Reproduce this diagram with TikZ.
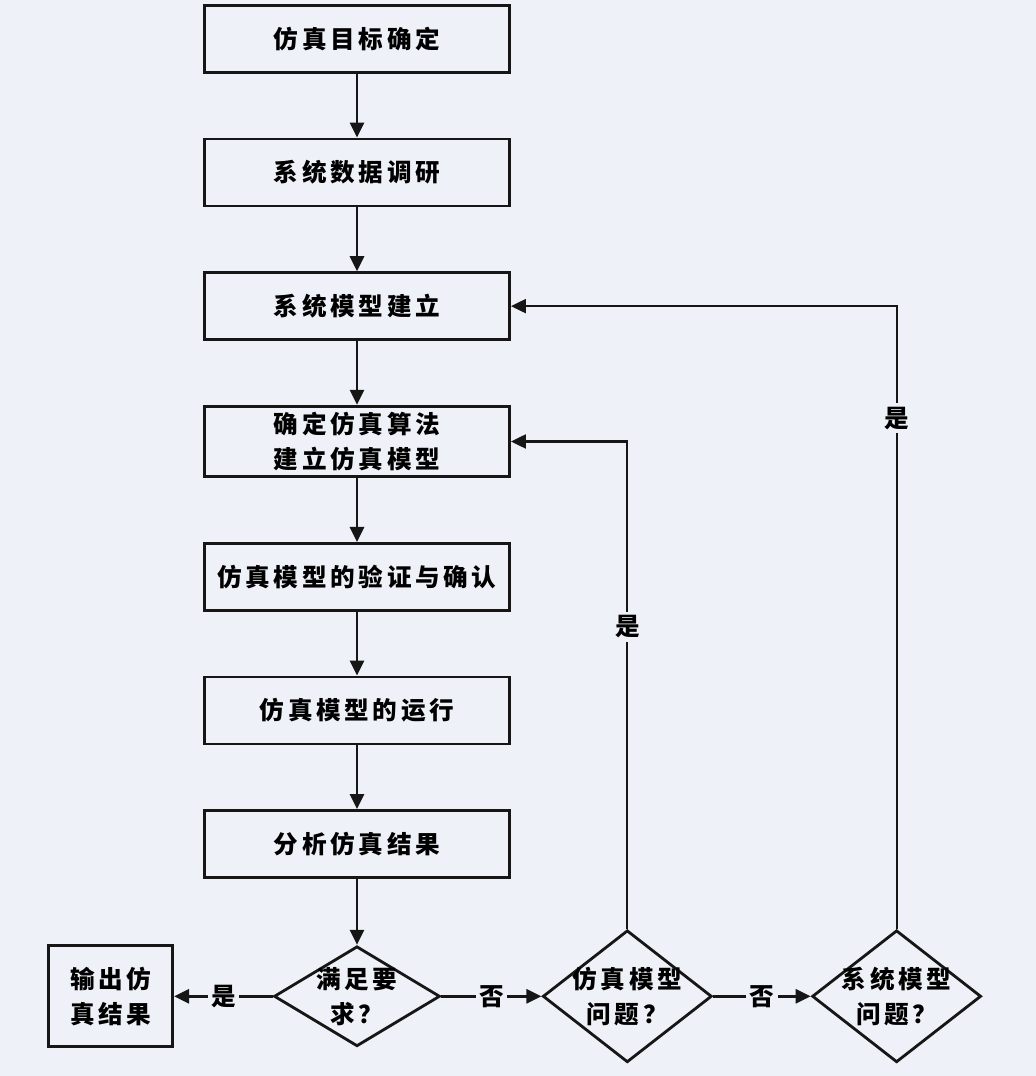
\documentclass[tikz,border=0pt]{standalone}
\usepackage{fontspec}
\usepackage{tikz}
\usepackage{xcolor}
\usetikzlibrary{arrows.meta, positioning, shapes.geometric}
\newfontfamily\cjk[LetterSpace=15]{Noto Sans CJK SC}
\definecolor{paperbg}{HTML}{EEF1F7}
\definecolor{inkline}{HTML}{161616}

\begin{document}
\begin{tikzpicture}[
      node distance=1.275cm,
      font=\cjk\bfseries\fontsize{14}{20}\selectfont,
      box/.style={draw=inkline, line width=1.6pt, fill=paperbg, minimum width=6.1cm, minimum height=1.34cm, align=center},
      outbox/.style={box, minimum width=2.48cm, minimum height=2.02cm},
      decide/.style={diamond, draw=inkline, line width=1.6pt, fill=paperbg, inner sep=-3pt, align=center},
      lbl/.style={fill=paperbg, inner sep=2pt},
      flow/.style={-{Triangle[length=0.3cm, width=0.28cm]}, line width=1.6pt, draw=inkline},
      back/.style={-{Triangle[length=0.3cm, width=0.28cm]}, line width=1.2pt, draw=inkline}
    ]
      \fill[paperbg] (0,0) rectangle (20.72,-21.52);
      \node[box] (goal) at (7.14,-0.78) {仿真目标确定};
      \node[box, below=of goal] (survey) {系统数据调研};
      \node[box, below=of survey] (model) {系统模型建立};
      \node[box, below=of model] (algo) {确定仿真算法\\建立仿真模型};
      \node[box, below=of algo] (verify) {仿真模型的验证与确认};
      \node[box, below=of verify] (run) {仿真模型的运行};
      \node[box, below=of run] (analyse) {分析仿真结果};
      \node[decide, aspect=1.66, minimum width=3.32cm, minimum height=2.0cm, below=1.32cm of analyse] (check) {满足要\\求？};
      \node[outbox, left=1.97cm of check] (output) {输出仿\\真结果};
      \node[decide, aspect=1.28, minimum width=3.38cm, minimum height=2.64cm, right=2.0cm of check] (simq) {仿真模型\\问题？};
      \node[decide, aspect=1.28, minimum width=3.38cm, minimum height=2.64cm, right=1.95cm of simq] (sysq) {系统模型\\问题？};
      \draw[flow] (goal) -- (survey);
      \draw[flow] (survey) -- (model);
      \draw[flow] (model) -- (algo);
      \draw[flow] (algo) -- (verify);
      \draw[flow] (verify) -- (run);
      \draw[flow] (run) -- (analyse);
      \draw[flow] (analyse) -- (check);
      \draw[flow] (check) -- node[lbl] {是} (output);
      \draw[flow] (check) -- node[lbl] {否} (simq);
      \draw[flow] (simq) -- node[lbl] {否} (sysq);
      \draw[back] (simq.north) |- node[lbl, pos=0.31] {是} (algo.east);
      \draw[back] (sysq.north) |- node[lbl, pos=0.41] {是} (model.east);
    \end{tikzpicture}
\end{document}
